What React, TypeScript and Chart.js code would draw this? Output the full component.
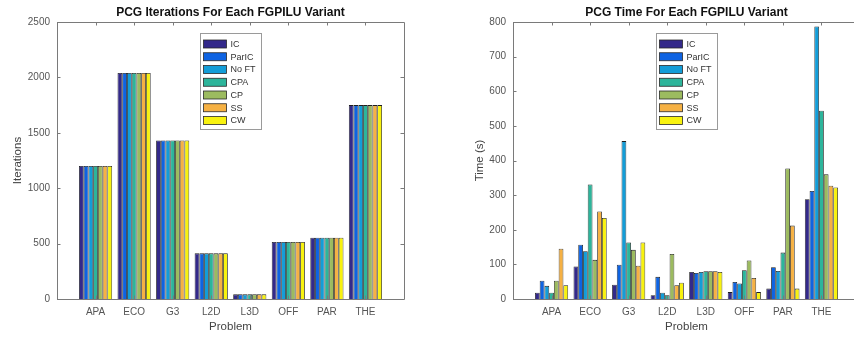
import React, { useEffect, useRef } from 'react';
import { Chart, registerables } from 'chart.js';

Chart.register(...registerables);

const FONT = "'Liberation Sans', Arial, Helvetica, sans-serif";

const categories = ['APA', 'ECO', 'G3', 'L2D', 'L3D', 'OFF', 'PAR', 'THE'];
const variants = ['IC', 'ParIC', 'No FT', 'CPA', 'CP', 'SS', 'CW'];
const variantColors = ['#33298a', '#0e63e2', '#139dd8', '#2db59b', '#9cbb5f', '#f6b143', '#f8f20f'];

// PCG iterations per problem, one array per variant
const iterIC = [1200, 2040, 1430, 412, 42, 515, 553, 1750];
const iterParIC = [1200, 2040, 1430, 412, 42, 515, 553, 1750];
const iterNoFT = [1200, 2040, 1430, 412, 42, 515, 553, 1750];
const iterCPA = [1200, 2040, 1430, 412, 42, 515, 553, 1750];
const iterCP = [1200, 2040, 1430, 412, 42, 515, 553, 1750];
const iterSS = [1200, 2040, 1430, 412, 42, 515, 553, 1750];
const iterCW = [1200, 2040, 1430, 412, 42, 515, 553, 1750];

// PCG time (s) per problem, one array per variant
const timeIC = [18, 94, 41, 11, 78, 20, 30, 288];
const timeParIC = [53, 157, 99, 64, 75, 49, 92, 312];
const timeNoFT = [38, 138, 456, 18, 78, 45, 81, 787];
const timeCPA = [18, 331, 163, 11, 80, 83, 134, 544];
const timeCP = [53, 113, 142, 130, 80, 111, 377, 360];
const timeSS = [145, 253, 96, 40, 80, 61, 212, 327];
const timeCW = [40, 234, 163, 47, 78, 20, 30, 322];

const iterSeries = [iterIC, iterParIC, iterNoFT, iterCPA, iterCP, iterSS, iterCW];
const timeSeries = [timeIC, timeParIC, timeNoFT, timeCPA, timeCP, timeSS, timeCW];

const iterTitle = 'PCG Iterations For Each FGPILU Variant';
const timeTitle = 'PCG Time For Each FGPILU Variant';
const iterAxisTitle = 'Iterations';
const timeAxisTitle = 'Time (s)';
const xAxisTitle = 'Problem';
const iterMax = 2500;
const iterStep = 500;
const timeMax = 800;
const timeStep = 100;

const paddedLabels = ['', ...categories, ''];

const framePlugin = {
  id: 'matlabFrame',
  afterDatasetsDraw(chart: any, _args: any, opts: any) {
    const { ctx, chartArea } = chart;
    const { left, right, top, bottom } = chartArea;
    const xs = chart.scales.x;
    const ys = chart.scales.y;
    ctx.save();
    // box
    ctx.strokeStyle = '#7a7a7a';
    ctx.lineWidth = 1;
    ctx.beginPath();
    ctx.rect(Math.round(left) + 0.5, Math.round(top) + 0.5, Math.round(right - left), Math.round(bottom - top));
    ctx.stroke();
    // inward ticks
    const tl = 3.5;
    ctx.beginPath();
    for (let i = 1; i <= categories.length; i++) {
      const px = Math.round(xs.getPixelForValue(i)) + 0.5;
      ctx.moveTo(px, top);
      ctx.lineTo(px, top + tl);
      ctx.moveTo(px, bottom);
      ctx.lineTo(px, bottom - tl);
    }
    ys.ticks.forEach((t: any) => {
      const py = Math.round(ys.getPixelForValue(t.value)) + 0.5;
      ctx.moveTo(left, py);
      ctx.lineTo(left + tl, py);
      ctx.moveTo(right, py);
      ctx.lineTo(right - tl, py);
    });
    ctx.stroke();

    // title
    const cx = (left + right) / 2;
    ctx.fillStyle = '#111';
    ctx.font = `bold 12px ${FONT}`;
    ctx.textAlign = 'center';
    ctx.textBaseline = 'middle';
    ctx.fillText(opts.title, cx, top - 9);

    // legend
    const bw = 61;
    const rowH = 12.75;
    const bh = 96;
    const bx = Math.round(cx - bw / 2) + 0.5;
    const by = Math.round(top + 11) + 0.5;
    ctx.fillStyle = '#ffffff';
    ctx.fillRect(bx, by, bw, bh);
    ctx.strokeStyle = '#9a9a9a';
    ctx.strokeRect(bx, by, bw, bh);
    ctx.font = `9px ${FONT}`;
    ctx.textAlign = 'left';
    chart.data.datasets.forEach((ds: any, i: number) => {
      const cy = by + 10.5 + rowH * i;
      ctx.fillStyle = ds.backgroundColor;
      ctx.fillRect(bx + 3, cy - 4, 23, 8);
      ctx.strokeStyle = '#2a2a2a';
      ctx.lineWidth = 0.8;
      ctx.strokeRect(bx + 3, cy - 4, 23, 8);
      ctx.fillStyle = '#333';
      ctx.fillText(ds.label, bx + 30, cy + 0.5);
    });
    ctx.restore();
  },
};

function makeConfig(series: number[][], title: string, yTitle: string, yMax: number, yStep: number, padLeft: number, padRight: number, yWidth: number, yTitlePad: number): any {
  return {
    type: 'bar',
    data: {
      labels: paddedLabels,
      datasets: series.map((vals, i) => ({
        label: variants[i],
        data: [null, ...vals, null],
        backgroundColor: variantColors[i],
        borderColor: '#1e1e1e',
        borderWidth: 0.8,
        barPercentage: 1,
        categoryPercentage: 0.86,
      })),
    },
    options: {
      responsive: false,
      animation: false,
      layout: { padding: { left: padLeft, right: padRight, top: 22, bottom: 0 } },
      plugins: {
        legend: { display: false },
        title: { display: false },
        tooltip: { enabled: false },
        matlabFrame: { title },
      },
      scales: {
        x: {
          type: 'category',
          offset: false,
          grid: { display: false, drawTicks: false },
          border: { display: false },
          ticks: { autoSkip: false, maxRotation: 0, minRotation: 0, padding: 7, color: '#555', font: { size: 10, family: FONT } },
          title: { display: true, text: xAxisTitle, color: '#444', font: { size: 11.5, family: FONT }, padding: { top: 0, bottom: 3 } },
          afterFit: (s: any) => { s.height = 38; },
        },
        y: {
          min: 0,
          max: yMax,
          grid: { display: false, drawTicks: false },
          border: { display: false },
          ticks: { stepSize: yStep, padding: 7, color: '#555', font: { size: 10, family: FONT }, callback: (v: any) => String(v) },
          title: { display: true, text: yTitle, color: '#444', font: { size: 11.5, family: FONT }, padding: { top: yTitlePad, bottom: 0 } },
          afterFit: (s: any) => { s.width = yWidth; },
        },
      },
    },
    plugins: [framePlugin],
  };
}

function BarPanel(props: { cfg: any; left: number; width: number }) {
  const ref = useRef<HTMLCanvasElement | null>(null);
  useEffect(() => {
    if (!ref.current) return;
    const chart = new Chart(ref.current, props.cfg);
    return () => chart.destroy();
  }, []);
  return (
    <canvas
      ref={ref}
      width={props.width}
      height={337}
      style={{ position: 'absolute', left: props.left, top: 0, width: props.width, height: 337 }}
    />
  );
}

export default function App() {
  const leftCfg = makeConfig(iterSeries, iterTitle, iterAxisTitle, iterMax, iterStep, 0, 23, 57, 11);
  const rightCfg = makeConfig(timeSeries, timeTitle, timeAxisTitle, timeMax, timeStep, 46, 7, 40, 0);
  return (
    <div style={{ position: 'fixed', left: 0, top: 0, width: 854, height: 337, overflow: 'hidden', background: '#fff' }}>
      <BarPanel cfg={leftCfg} left={0} width={427} />
      <BarPanel cfg={rightCfg} left={427} width={440} />
    </div>
  );
}
